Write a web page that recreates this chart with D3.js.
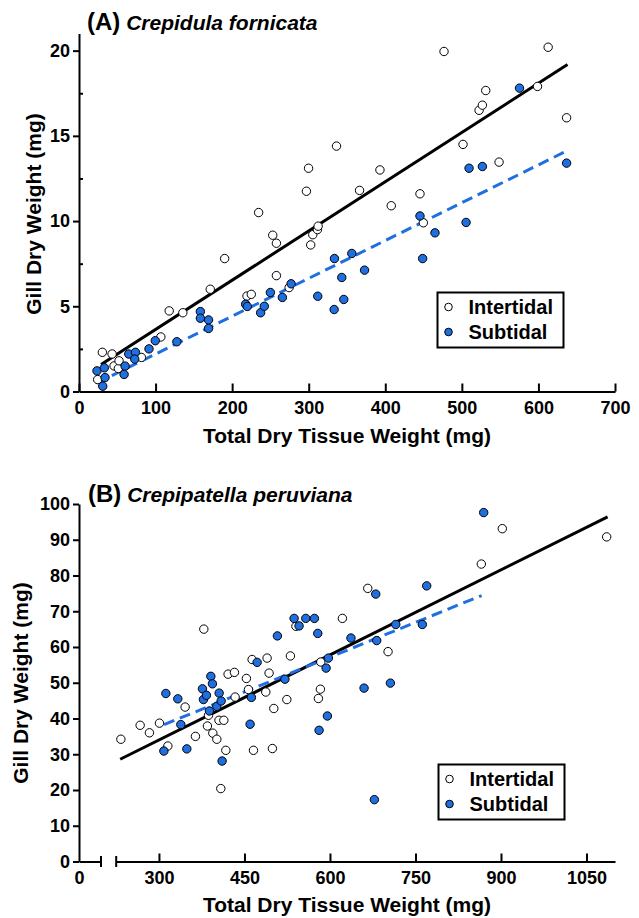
<!DOCTYPE html>
<html><head><meta charset="utf-8">
<script src="https://cdn.jsdelivr.net/npm/d3@7"></script>
<style>
html,body{margin:0;padding:0;background:#fff;}
svg{display:block;font-family:"Liberation Sans",Arial,sans-serif;}
</style></head>
<body>
<svg id="chart" width="639" height="918"></svg>
<script>
// ---------- DATA ----------
// Panel A: Crepidula fornicata  [total dry tissue weight (mg), gill dry weight (mg)]
const aIntertidal = [[24.4,0.7],[30.5,2.3],[43.2,2.2],[45.8,1.5],[51.4,1.35],[52.3,1.8],[81.5,2.0],[106.9,3.2],[117.8,4.73],[135.6,4.62],[171.4,6.0],[190.2,7.8],[219.4,5.6],[225,5.7],[234.6,10.5],[253,9.17],[257.8,8.7],[257.8,6.8],[274.4,6.1],[297,11.75],[299.8,13.1],[302.6,8.6],[305.3,9.2],[311.4,9.5],[312.3,9.7],[336.3,14.4],[366.4,11.8],[393,13.0],[407.8,10.9],[445.3,11.6],[449.7,9.9],[476.7,19.95],[501.5,14.5],[522.5,16.5],[526.8,16.8],[531.2,17.66],[548.6,13.46],[598.8,17.9],[612.7,20.2],[636.8,16.06]];
const aSubtidal = [[23.5,1.21],[33.1,1.39],[34,0.82],[31,0.31],[60.2,1.49],[58.9,1.0],[65,2.2],[73.7,2.3],[72.8,1.9],[91.4,2.5],[99.6,2.98],[127.8,2.92],[158.5,4.69],[158.5,4.3],[169.2,4.2],[169.2,3.7],[217.6,5.12],[219.8,4.99],[237.2,4.62],[242,5.0],[249.9,5.81],[265.6,5.52],[277,6.32],[311.8,5.59],[333.6,7.8],[343.2,6.69],[333.2,4.81],[345.8,5.4],[356.3,8.1],[372.9,7.12],[445.3,10.3],[448.8,7.8],[464.9,9.31],[505.5,9.92],[509.4,13.1],[526.8,13.2],[575.3,17.8],[636.8,13.4]];
const aFitIntertidal = [[28.8,1.58],[638,19.19]];
const aFitSubtidal = [[23,0.49],[638,14.14]];
const aXTicks = [0,100,200,300,400,500,600,700];
const aYTicks = [0,5,10,15,20];
const aYMinor = [2.5,7.5,12.5,17.5];

// Panel B: Crepipatella peruviana
const bIntertidal = [[233.2,34.2],[267,38.1],[283.3,36.0],[300.9,38.7],[315.6,32.3],[345.9,43.2],[364,35.0],[378.7,65.0],[385,37.9],[386.9,40.9],[394.5,35.9],[401.5,34.2],[405.3,39.5],[413.8,39.5],[417.3,31.1],[408.5,20.4],[421.3,52.4],[432.4,52.9],[433.6,46.0],[453.4,51.2],[457,48.1],[463.4,56.5],[465.8,31.1],[487.4,47.4],[489.7,56.9],[493.2,52.7],[499,31.6],[501.5,42.8],[524.3,45.3],[530.6,57.5],[540.3,65.8],[579.7,45.6],[583.2,48.2],[583.9,55.8],[621.8,68.0],[666.3,76.4],[701.9,58.7],[865.5,83.2],[902.3,93.1],[1085.4,90.8]];
const bSubtidal = [[308.6,30.9],[312.1,47.0],[333.1,45.5],[338.4,38.3],[348.9,31.5],[376.3,48.3],[378,45.3],[383.3,46.5],[388.5,42.1],[391,51.8],[393.8,49.7],[401.5,43.4],[405.6,47.1],[409.1,44.9],[410.8,28.1],[459.9,38.4],[462.2,45.9],[472.2,55.7],[507.8,63.1],[521,51.0],[537.1,68.0],[545.8,65.9],[557.6,68.0],[572.7,68.0],[578.6,63.8],[580.9,36.7],[593.2,54.1],[595.5,40.7],[597.2,56.9],[636.8,62.5],[659.8,48.5],[677.9,17.3],[680.3,74.8],[682,61.8],[706,49.9],[715.4,66.3],[762,66.3],[769.7,77.1],[869.7,97.6]];
const bFitIntertidal = [[232,28.6],[1087,96.4]];
const bFitSubtidal = [[309,38.3],[866,74.4]];
const bXTicks = [300,450,600,750,900,1050];
const bXLowTicks = [0];
const bYTicks = [0,10,20,30,40,50,60,70,80,90,100];

const seriesNames = ["Intertidal","Subtidal"];
const titles = [["(A)","Crepidula fornicata"],["(B)","Crepipatella peruviana"]];
const xTitle = "Total Dry Tissue Weight (mg)";
const yTitle = "Gill Dry Weight (mg)";

// ---------- STYLE ----------
const BLUE = "#1f6fe0";
const FONT = "'Liberation Sans',Arial,sans-serif";
const fmt = d3.format("d");
const svg = d3.select("#chart");

function styleAxis(g){
  g.attr("font-family",FONT).attr("font-size",18);
  g.select(".domain").attr("stroke","#000").attr("stroke-width",2);
  g.selectAll(".tick line").attr("stroke","#000").attr("stroke-width",2);
  g.selectAll(".tick text").attr("fill","#000").attr("font-size",18).attr("font-weight","bold");
}

function drawPoints(g, data, x, y, filled){
  g.append("g").selectAll("circle").data(data).join("circle")
    .attr("cx",d=>x(d[0])).attr("cy",d=>y(d[1])).attr("r",4.2)
    .attr("fill",filled?BLUE:"#fff").attr("stroke","#000").attr("stroke-width",1);
}
function drawFit(g, data, x, y, dashed){
  const line = d3.line().x(d=>x(d[0])).y(d=>y(d[1]));
  g.append("path").datum(data).attr("d",line).attr("fill","none")
    .attr("stroke",dashed?BLUE:"#000").attr("stroke-width",3)
    .attr("stroke-dasharray",dashed?"11,6":null);
}
function drawLegend(g, x0, y0){
  const w=126, h=55;
  g.append("rect").attr("x",x0).attr("y",y0).attr("width",w).attr("height",h)
    .attr("fill","#fff").attr("stroke","#000").attr("stroke-width",2);
  seriesNames.forEach((n,i)=>{
    const cy = y0+14.5+i*25;
    g.append("circle").attr("cx",x0+11).attr("cy",cy).attr("r",3.8)
      .attr("fill",i?BLUE:"#fff").attr("stroke","#000").attr("stroke-width",1);
    g.append("text").attr("x",x0+31).attr("y",cy+7).text(n)
      .attr("font-size",20).attr("font-weight","bold");
  });
}
function drawTitle(t, x, y){
  const tx = svg.append("text").attr("x",x).attr("y",y).attr("font-weight","bold");
  tx.append("tspan").text(t[0]).attr("font-size",24);
  tx.append("tspan").text(" "+t[1]).attr("font-size",21).attr("font-style","italic");
}

// ---------- PANEL A ----------
const xA = d3.scaleLinear().domain([0,700]).range([79,615]);
const yA = d3.scaleLinear().domain([0,21]).range([391.5,33.6]);
const gA = svg.append("g");
gA.append("g").attr("transform","translate(0,391.5)")
  .call(d3.axisBottom(xA).tickValues(aXTicks).tickFormat(fmt).tickSizeInner(-8).tickSizeOuter(0).tickPadding(10))
  .call(styleAxis);
gA.append("g").attr("transform","translate(79,0)")
  .call(d3.axisLeft(yA).tickValues(aYTicks).tickFormat(fmt).tickSizeInner(6).tickSizeOuter(0).tickPadding(3))
  .call(styleAxis);
gA.append("g").attr("transform","translate(79,0)")
  .call(d3.axisRight(yA).tickValues(aYMinor).tickSizeInner(4).tickSizeOuter(0).tickFormat(""))
  .call(styleAxis).call(g=>g.select(".domain").remove());
drawFit(gA, aFitIntertidal, xA, yA, false);
drawFit(gA, aFitSubtidal, xA, yA, true);
drawPoints(gA, aIntertidal, xA, yA, false);
drawPoints(gA, aSubtidal, xA, yA, true);
drawLegend(gA, 437.5, 292.5);
drawTitle(titles[0], 87, 30);
svg.append("text").attr("x",347).attr("y",443).attr("text-anchor","middle")
  .attr("font-size",21).attr("font-weight","bold").text(xTitle);
svg.append("text").attr("transform","translate(41,214) rotate(-90)").attr("text-anchor","middle")
  .attr("font-size",21).attr("font-weight","bold").text(yTitle);

// ---------- PANEL B ----------
const xB = d3.scaleLinear().domain([225,1100]).range([116.2,615]);
const xBLow = d3.scaleLinear().domain([0,38.6]).range([79,101]);
const yB = d3.scaleLinear().domain([0,100]).range([861.5,504]);
const gB = svg.append("g");
gB.append("g").attr("transform","translate(0,861.5)")
  .call(d3.axisBottom(xB).tickValues(bXTicks).tickFormat(fmt).tickSizeInner(-8).tickSizeOuter(0).tickPadding(10))
  .call(styleAxis);
gB.append("g").attr("transform","translate(0,861.5)")
  .call(d3.axisBottom(xBLow).tickValues(bXLowTicks).tickFormat(fmt).tickSizeInner(0).tickSizeOuter(0).tickPadding(10))
  .call(styleAxis);
// break marks at the ends of the two axis segments
[xBLow.range()[1], xB.range()[0]].forEach(px=>{
  gB.append("line").attr("x1",px).attr("x2",px).attr("y1",856).attr("y2",867)
    .attr("stroke","#000").attr("stroke-width",2);
});
gB.append("g").attr("transform","translate(79,0)")
  .call(d3.axisLeft(yB).tickValues(bYTicks).tickFormat(fmt).tickSizeInner(6).tickSizeOuter(0).tickPadding(3))
  .call(styleAxis);
drawFit(gB, bFitIntertidal, xB, yB, false);
drawFit(gB, bFitSubtidal, xB, yB, true);
drawPoints(gB, bIntertidal, xB, yB, false);
drawPoints(gB, bSubtidal, xB, yB, true);
drawLegend(gB, 438.5, 764.5);
drawTitle(titles[1], 88, 502);
svg.append("text").attr("x",347).attr("y",912).attr("text-anchor","middle")
  .attr("font-size",21).attr("font-weight","bold").text(xTitle);
svg.append("text").attr("transform","translate(28,683) rotate(-90)").attr("text-anchor","middle")
  .attr("font-size",21).attr("font-weight","bold").text(yTitle);
</script>
</body></html>
